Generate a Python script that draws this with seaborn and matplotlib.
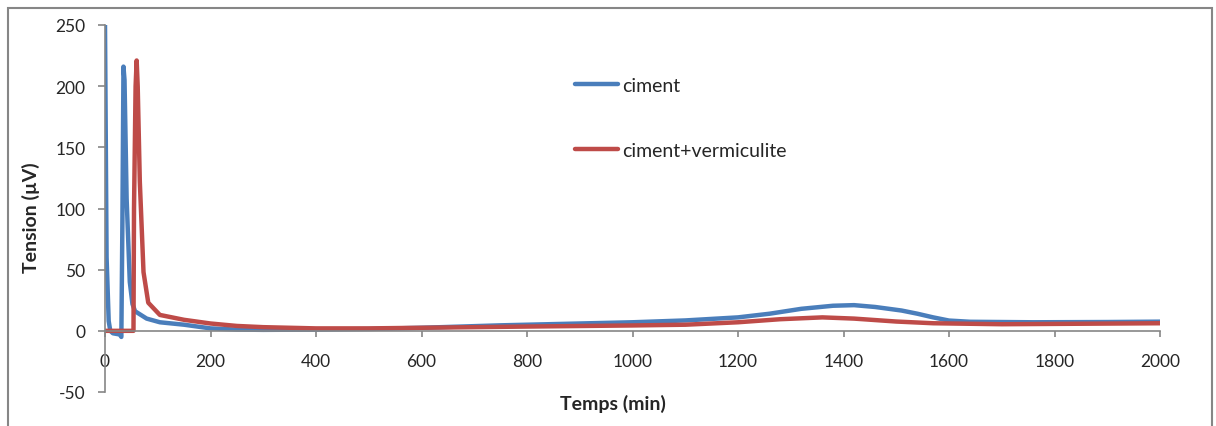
import matplotlib
matplotlib.use("Agg")
import matplotlib.pyplot as plt
from matplotlib.patches import Rectangle
import pandas as pd
import seaborn as sns

# courbe "ciment"
ciment_t = [0, 3, 7, 10, 15, 28, 31, 33, 35, 37, 41, 47, 52, 57, 79, 104, 150, 200, 250,
            300, 400, 500, 600, 750, 1000, 1100, 1200, 1260, 1320, 1380, 1420, 1460,
            1510, 1540, 1570, 1600, 1640, 1760, 1900, 2000]
ciment_v = [250, 60, 8, 0, -2, -3, -5, 90, 216, 205, 108, 40, 22, 16, 10, 7, 5, 2, 1,
            0.8, 1, 1.5, 2.5, 4.5, 7, 8.5, 11, 14, 18, 20.5, 21, 19.5,
            16.6, 14, 11, 8.4, 7.4, 7, 7.2, 7.5]

# courbe "ciment+vermiculite"
verm_t = [0, 54, 55, 58, 60, 62, 66, 73, 82, 104, 150, 200, 250, 300, 400, 500, 600,
          800, 1000, 1100, 1200, 1280, 1360, 1420, 1500, 1570, 1700, 1850, 2000]
verm_v = [0, 0, 100, 200, 221, 200, 122, 48, 23, 13, 9, 6, 4, 3, 2, 2, 2.5,
          3.5, 4.4, 5, 7, 9.5, 11, 10, 7.6, 6.2, 5.4, 5.8, 6.2]

series_names = ["ciment", "ciment+vermiculite"]
series_colors = ["#4A7EBB", "#BE4B48"]

x_ticks = list(range(0, 2001, 200))
y_ticks = list(range(-50, 251, 50))

df = pd.concat([
    pd.DataFrame({"t": ciment_t, "v": ciment_v, "serie": series_names[0]}),
    pd.DataFrame({"t": verm_t, "v": verm_v, "serie": series_names[1]}),
], ignore_index=True)

sns.set_style("white")
plt.rcParams["font.family"] = ["Lato", "DejaVu Sans"]
plt.rcParams["axes.unicode_minus"] = False

fig = plt.figure(figsize=(12.16, 4.27), dpi=100)
ax = fig.add_axes([105 / 1216, 1 - 393 / 427, 1055 / 1216, 367 / 427])

sns.lineplot(data=df, x="t", y="v", hue="serie", hue_order=series_names,
             palette=series_colors, estimator=None, sort=False, linewidth=3.2,
             ax=ax)

ax.set_xlim(0, 2000)
ax.set_ylim(-50, 250)
ax.set_xticks(x_ticks)
ax.set_yticks(y_ticks)

spine_col = "#868686"
ax.spines["top"].set_visible(False)
ax.spines["right"].set_visible(False)
ax.spines["bottom"].set_position(("data", 0))
for side in ("left", "bottom"):
    ax.spines[side].set_color(spine_col)
    ax.spines[side].set_linewidth(1.2)

ax.tick_params(axis="x", direction="out", length=4, width=1.2, color=spine_col,
               pad=12, labelsize=12.5, bottom=True)
ax.tick_params(axis="y", direction="out", length=5, width=1.2, color=spine_col,
               pad=9, labelsize=12.5, left=True)

ax.set_xlabel("Temps (min)", fontsize=14, fontweight="bold")
ax.set_ylabel("Tension (µV)", fontsize=14, fontweight="bold")
ax.xaxis.set_label_coords((613 - 105) / 1055, -0.005)
ax.yaxis.set_label_coords(-0.062, 0.477)

ax.legend(loc="upper left", bbox_to_anchor=(0.4455, 0.858), frameon=False,
          fontsize=14, handlelength=2.2, handletextpad=0.2,
          labelspacing=2.45, borderpad=0, borderaxespad=0)

# cadre du graphique
fig.patches.append(Rectangle((7.5 / 1216, -0.2), 1204.5 / 1216, 1.2 - 9 / 427,
                             transform=fig.transFigure, fill=False,
                             edgecolor=spine_col, linewidth=1.5))

fig.savefig("out.png", dpi=100)
